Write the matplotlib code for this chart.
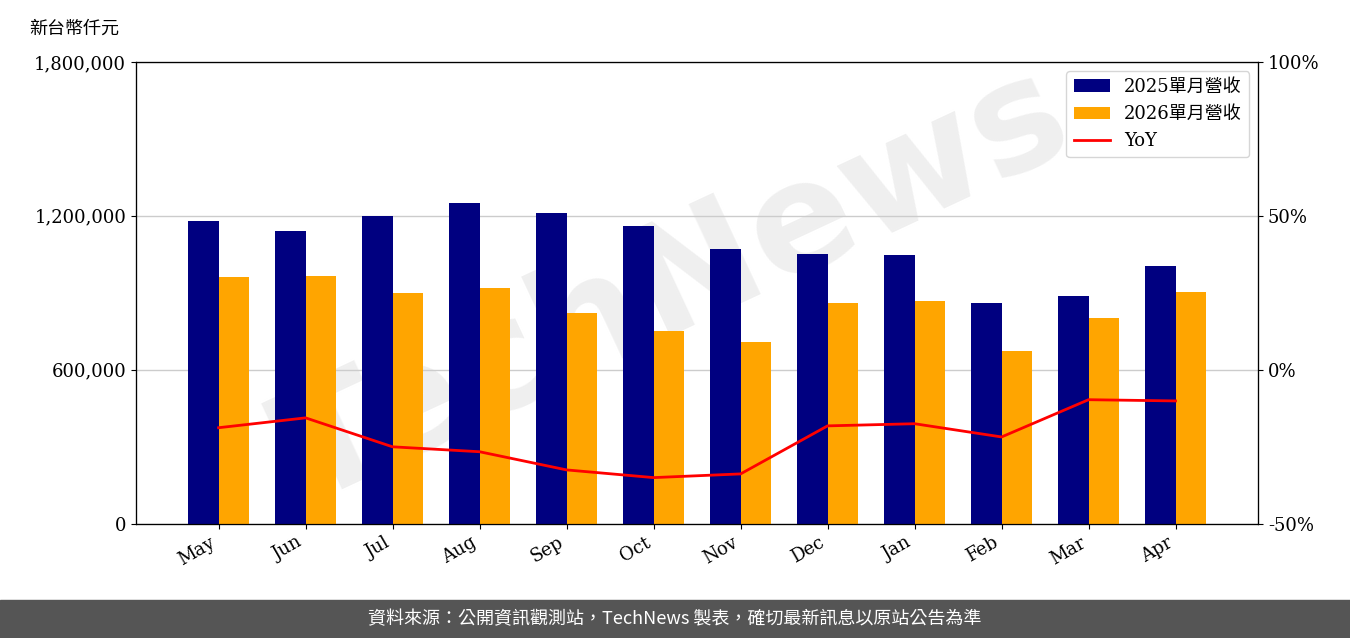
import matplotlib.pyplot as plt
import numpy as np

plt.rcParams['font.family'] = ['DejaVu Serif', 'Noto Sans CJK TC']

months = ['May', 'Jun', 'Jul', 'Aug', 'Sep', 'Oct', 'Nov', 'Dec', 'Jan', 'Feb', 'Mar', 'Apr']
rev_2025 = [1180000, 1142000, 1200000, 1251000, 1212000, 1161000, 1071000, 1052000, 1048000, 861000, 888000, 1005000]
rev_2026 = [962000, 966000, 900000, 919000, 822000, 752000, 709000, 861000, 869000, 674000, 803000, 904000]
yoy = [-18.8, -15.6, -25.0, -26.6, -32.5, -35.0, -33.8, -18.2, -17.5, -21.8, -9.7, -10.1]

fig = plt.figure(figsize=(13.5, 6.38), dpi=100)
ax = fig.add_axes([0.1007, 0.179, 0.8313, 0.724])
x = np.arange(len(months))
w = 0.355
ax.bar(x - w / 2, rev_2025, w, color='#000080', label='2025單月營收')
ax.bar(x + w / 2, rev_2026, w, color='#FFA500', label='2026單月營收')
ax.set_xlim(-0.95, 11.95)
ax.set_ylim(0, 1800000)
ax.set_yticks([0, 600000, 1200000, 1800000])
ax.set_yticklabels(['0', '600,000', '1,200,000', '1,800,000'], fontsize=13)
ax.set_xticks(x)
ax.set_xticklabels(months, rotation=30, ha='right', fontsize=13)

ax2 = ax.twinx()
ax2.plot(x, yoy, color='red', linewidth=2, label='YoY')
ax2.set_ylim(-50, 100)
ax2.set_yticks([-50, 0, 50, 100])
ax2.set_yticklabels(['-50%', '0%', '50%', '100%'], fontsize=13)
ax2.grid(axis='y', color='#cccccc', linewidth=1)
ax2.set_axisbelow(True)
ax.set_zorder(ax2.get_zorder() + 1)
ax.patch.set_visible(False)
ax2.set_zorder(0)
# put line above bars: redraw on ax
ax2.lines[0].remove()
ax3 = ax.twinx()
ax3.set_ylim(-50, 100)
ax3.set_yticks([])
ax3.plot(x, yoy, color='red', linewidth=2, label='YoY')

h1, l1 = ax.get_legend_handles_labels()
h3, l3 = ax3.get_legend_handles_labels()
ax3.legend(h1 + h3, l1 + l3, loc='upper right', fontsize=13)

fig.text(0.022, 0.955, '新台幣仟元', fontsize=13, ha='left', va='center')
fig.text(0.5, 0.55, 'TechNews', fontsize=110, color='#dddddd', alpha=0.45,
         rotation=25, ha='center', va='center', fontweight='bold', zorder=-1,
         family='DejaVu Sans')

fig.patches.append(plt.Rectangle((0, 0), 1, 0.06, transform=fig.transFigure,
                                 color='#555555', zorder=0))
fig.text(0.5, 0.03, '資料來源：公開資訊觀測站，TechNews 製表，確切最新訊息以原站公告為準',
         color='white', fontsize=13, ha='center', va='center',
         family=['Noto Sans CJK TC', 'DejaVu Sans'])

fig.savefig('out.png', dpi=100)
